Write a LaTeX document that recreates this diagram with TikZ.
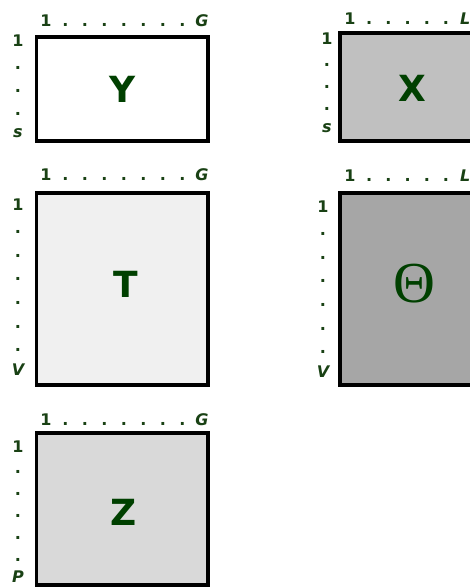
\documentclass[tikz,border=0pt]{standalone}
\usepackage{fontspec}
\setmainfont{DejaVu Sans}
\newfontfamily\thetafont{Liberation Serif}
\definecolor{labc}{RGB}{25,65,20}
\definecolor{letc}{RGB}{0,64,0}
\definecolor{fillT}{RGB}{240,240,240}
\definecolor{fillX}{RGB}{192,192,192}
\definecolor{fillTh}{RGB}{166,166,166}
\definecolor{fillZ}{RGB}{217,217,217}
\tikzset{
  mat/.style={draw=black,line width=3.2pt},
  lab/.style={anchor=base,inner sep=0pt,text=labc,font=\fontsize{16}{16}\selectfont\bfseries},
  big/.style={inner sep=0pt,text=letc,font=\fontsize{36}{36}\selectfont\bfseries},
}
% top index label: name, x of "1", baseline y, number of dots, last letter, step
\newcommand\toplab[6]{%
  \node[lab] (#1one) at (#2,#3) {1};
  \foreach \i in {1,...,#4} \node[lab] (#1dot\i) at ({#2+\i*#6},#3) {.};
  \node[lab] (#1end) at ({#2+(#4+1)*#6},#3) {\itshape #5};
}
% left index label: name, x, baseline y of "1", number of dots, last letter, step
\newcommand\leftlab[6]{%
  \node[lab] (#1one) at (#2,#3) {1};
  \foreach \i in {1,...,#4} \node[lab] (#1dot\i) at (#2,{#3+\i*#6}) {.};
  \node[lab] (#1end) at (#2,{#3+(#4+1)*#6}) {\itshape #5};
}
\begin{document}
\begin{tikzpicture}[x=1pt,y=-1pt]
\useasboundingbox (0,0) rectangle (470,588);
\clip (0,0) rectangle (470,588);
% matrices
\draw[mat,fill=white]  (36.5,37) rectangle (208,141);
\draw[mat,fill=fillX]  (340,33) rectangle (490,141);
\draw[mat,fill=fillT]  (36.5,193) rectangle (208,385);
\draw[mat,fill=fillTh] (340,193) rectangle (490,385);
\draw[mat,fill=fillZ]  (36.5,433) rectangle (208,585);
% names
\node[big] (Y) at (123,89) {Y};
\node[big] (X) at (412,88) {X};
\node[big] (T) at (126,284) {T};
\node[big,font=\thetafont\fontsize{58}{58}\selectfont] (Th) at (414,284) {Θ};
\node[big] (Z) at (124,512) {Z};
% index labels
\toplab{yt}{46}{27}{7}{G}{19.5}
\leftlab{yl}{18}{47}{3}{s}{22.75}
\toplab{xt}{350}{25}{5}{L}{19.2}
\leftlab{xl}{327}{45}{3}{s}{22}
\toplab{tt}{46}{180}{7}{G}{19.5}
\leftlab{tl}{18}{210}{6}{V}{23.6}
\toplab{ht}{350}{182}{5}{L}{19.2}
\leftlab{hl}{323}{212}{6}{V}{23.6}
\toplab{zt}{46}{425}{7}{G}{19.5}
\leftlab{zl}{18}{452}{5}{P}{21.8}
\end{tikzpicture}
\end{document}
